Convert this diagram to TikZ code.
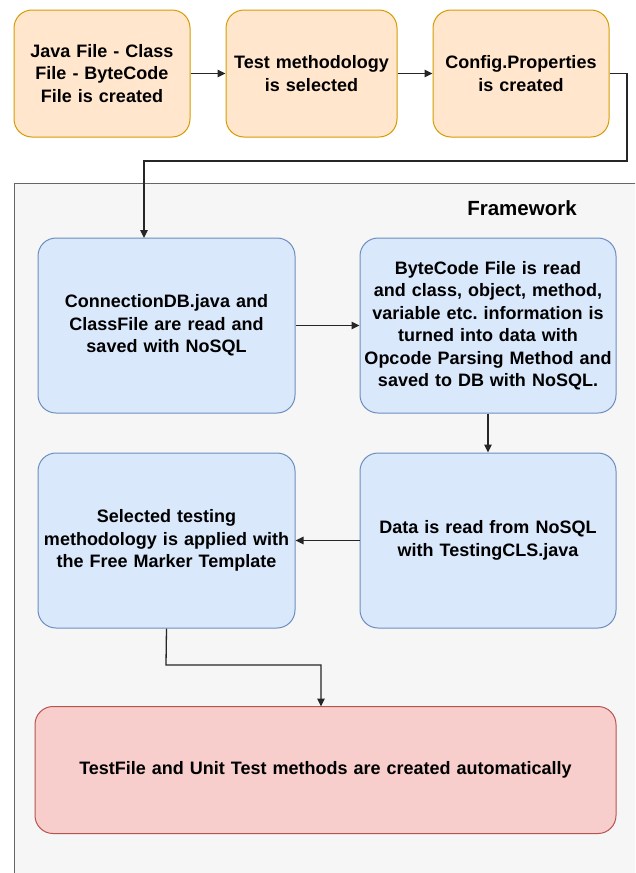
\documentclass[tikz,border=0pt]{standalone}
\usepackage{fontspec}
\setmainfont{Liberation Sans}
\frenchspacing
\usetikzlibrary{arrows.meta}
\definecolor{orfill}{HTML}{FFE6CC}
\definecolor{ordraw}{HTML}{D79B00}
\definecolor{blfill}{HTML}{DAE8FC}
\definecolor{bldraw}{HTML}{6C8EBF}
\definecolor{rdfill}{HTML}{F8CECC}
\definecolor{rddraw}{HTML}{B85450}
\definecolor{frfill}{HTML}{F5F6F5}
\definecolor{frdraw}{HTML}{666666}
\tikzset{
  box/.style={rounded corners=18pt, line width=1pt, align=center,
    font=\fontsize{18}{22.5}\selectfont\bfseries, inner sep=1pt},
  orbox/.style={box, fill=orfill, draw=ordraw},
  blbox/.style={box, fill=blfill, draw=bldraw},
  rdbox/.style={box, fill=rdfill, draw=rddraw},
  conn/.style={draw=black!85, line width=1.3pt, -{Triangle[length=8pt,width=7.5pt]}},
}
\begin{document}
\begin{tikzpicture}[x=1pt,y=-1pt]
\useasboundingbox (0,0) rectangle (635,873);
\begin{scope}
\clip (0,0) rectangle (635,873);
% framework container
\draw[fill=frfill, draw=frdraw, line width=1pt] (14,183) rectangle (660,900);
\end{scope}
\node[font=\fontsize{20.5}{24}\selectfont\bfseries] (fw) at (522,208) {Framework};

% top row
\node[orbox, minimum width=176pt, minimum height=127pt, text width=172pt] (javaf) at (102,73.5)
  {Java File - Class\\File - ByteCode\\File is created};
\node[orbox, minimum width=171pt, minimum height=127pt, text width=167pt] (meth) at (311.5,73.5)
  {Test methodology\\is selected};
\node[orbox, minimum width=176pt, minimum height=127pt, text width=172pt] (conf) at (521,73.5)
  {Config.Properties\\is created};

% framework boxes
\node[blbox, minimum width=257pt, minimum height=175pt, text width=253pt] (conn) at (166.5,325.5)
  {ConnectionDB.java and\\ClassFile are read and\\saved with NoSQL};
\node[blbox, minimum width=256pt, minimum height=175pt, text width=254pt] (byte) at (488,325.5)
  {ByteCode File is read\\and class, object, method,\\variable etc. information is\\turned into data with\\Opcode Parsing Method and\\saved to DB with NoSQL.};
\node[blbox, minimum width=257pt, minimum height=175pt, text width=253pt] (apply) at (166.5,540.5)
  {Selected testing\\methodology is applied with\\the Free Marker Template};
\node[blbox, minimum width=256pt, minimum height=175pt, text width=252pt] (read) at (488,540.5)
  {Data is read from NoSQL\\with TestingCLS.java};
\node[rdbox, minimum width=581pt, minimum height=127pt, text width=570pt] (result) at (325.5,770)
  {TestFile and Unit Test methods are created automatically};

% connectors
\draw[conn] (javaf.east) -- (meth.west);
\draw[conn] (meth.east) -- (conf.west);
\draw[conn] (conf.east) -- (conf.east -| 627,0) -- (627,161) -- (144,161) -- (144,238);
\draw[conn] (conn.east) -- (byte.west);
\draw[conn] (byte.south) -- (read.north);
\draw[conn] (read.west) -- (apply.east);
\draw[conn] (apply.south) -- (166,665) -- (321,665) -- (321,706.5);
\end{tikzpicture}
\end{document}
